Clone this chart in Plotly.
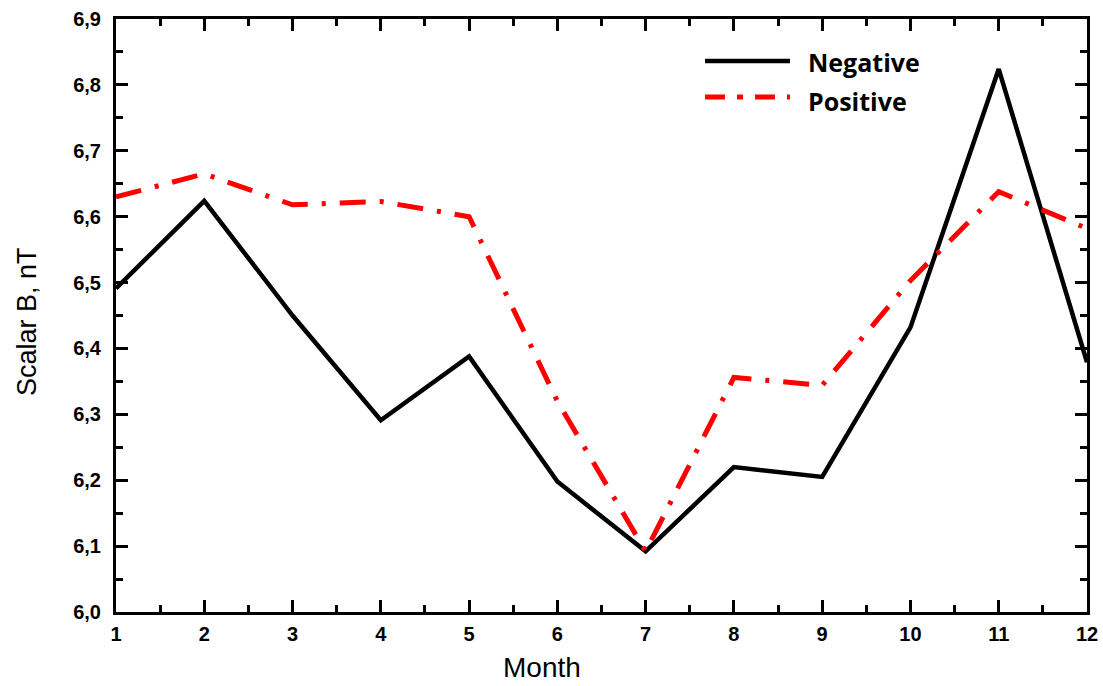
import plotly.graph_objects as go

months = [1, 2, 3, 4, 5, 6, 7, 8, 9, 10, 11, 12]
negative = [6.491, 6.624, 6.450, 6.291, 6.388, 6.198, 6.092, 6.220, 6.205, 6.432, 6.824, 6.379]
positive = [6.630, 6.665, 6.618, 6.623, 6.600, 6.320, 6.092, 6.356, 6.344, 6.503, 6.638, 6.582]
y_ticks = [6.0, 6.1, 6.2, 6.3, 6.4, 6.5, 6.6, 6.7, 6.8, 6.9]
legend_names = ["Negative", "Positive"]

fig = go.Figure()
fig.add_trace(go.Scatter(x=months, y=negative, mode="lines", name=legend_names[0],
                         line=dict(color="black", width=4.5), showlegend=False))
fig.add_trace(go.Scatter(x=months, y=positive, mode="lines", name=legend_names[1],
                         line=dict(color="#ff0000", width=5, dash="26px,14px,4px,14px"),
                         showlegend=False))

tickfont = dict(family="Liberation Sans, Arial", size=20, color="black", weight="bold")
axis_common = dict(showline=True, linecolor="black", linewidth=3, mirror="allticks",
                   ticks="inside", ticklen=12, tickwidth=2.5, tickcolor="black",
                   showgrid=False, zeroline=False, tickfont=tickfont, automargin=False)

fig.update_xaxes(range=[1, 12], tickvals=months, ticklabelstandoff=2,
                 minor=dict(ticks="inside", ticklen=7, tickwidth=2.5, tickcolor="black", dtick=0.5, tick0=1),
                 **axis_common)
fig.update_yaxes(range=[6.0, 6.9], tickvals=y_ticks, tickformat=".1f", ticklabelstandoff=8,
                 minor=dict(ticks="inside", ticklen=7, tickwidth=2.5, tickcolor="black", dtick=0.05, tick0=6.0),
                 **axis_common)

fig.add_annotation(xref="paper", yref="paper", x=(542-116)/971, y=-(668-612)/593, text="Month",
                   showarrow=False, xanchor="center", yanchor="middle",
                   font=dict(family="Liberation Sans, Arial", size=28, color="black"))
fig.add_annotation(xref="paper", yref="paper", x=-(116-27)/971, y=(612-322)/593, text="Scalar B, nT",
                   showarrow=False, xanchor="center", yanchor="middle", textangle=-90,
                   font=dict(family="Liberation Sans, Arial", size=27, color="black"))

# custom legend
legend_font = dict(family="Open Sans, Lato", size=25, color="black", weight="bold")
fig.add_shape(type="line", xref="paper", yref="paper", x0=(705-116)/971, x1=(790-116)/971,
              y0=(612-61)/593, y1=(612-61)/593, line=dict(color="black", width=4.5))
fig.add_shape(type="line", xref="paper", yref="paper", x0=(705-116)/971, x1=(790-116)/971,
              y0=(612-97)/593, y1=(612-97)/593, line=dict(color="#ff0000", width=5, dash="20px,12px,6px,12px"))
fig.add_annotation(xref="paper", yref="paper", x=(806-116)/971, y=(612-62)/593, text=legend_names[0],
                   showarrow=False, xanchor="left", yanchor="middle", font=legend_font)
fig.add_annotation(xref="paper", yref="paper", x=(806-116)/971, y=(612-101)/593, text=legend_names[1],
                   showarrow=False, xanchor="left", yanchor="middle", font=legend_font)

fig.update_layout(width=1103, height=686, margin=dict(l=116, r=16, t=19, b=74),
                  paper_bgcolor="white", plot_bgcolor="white", separators=",.",
                  showlegend=False)

fig.write_html("out.html")
